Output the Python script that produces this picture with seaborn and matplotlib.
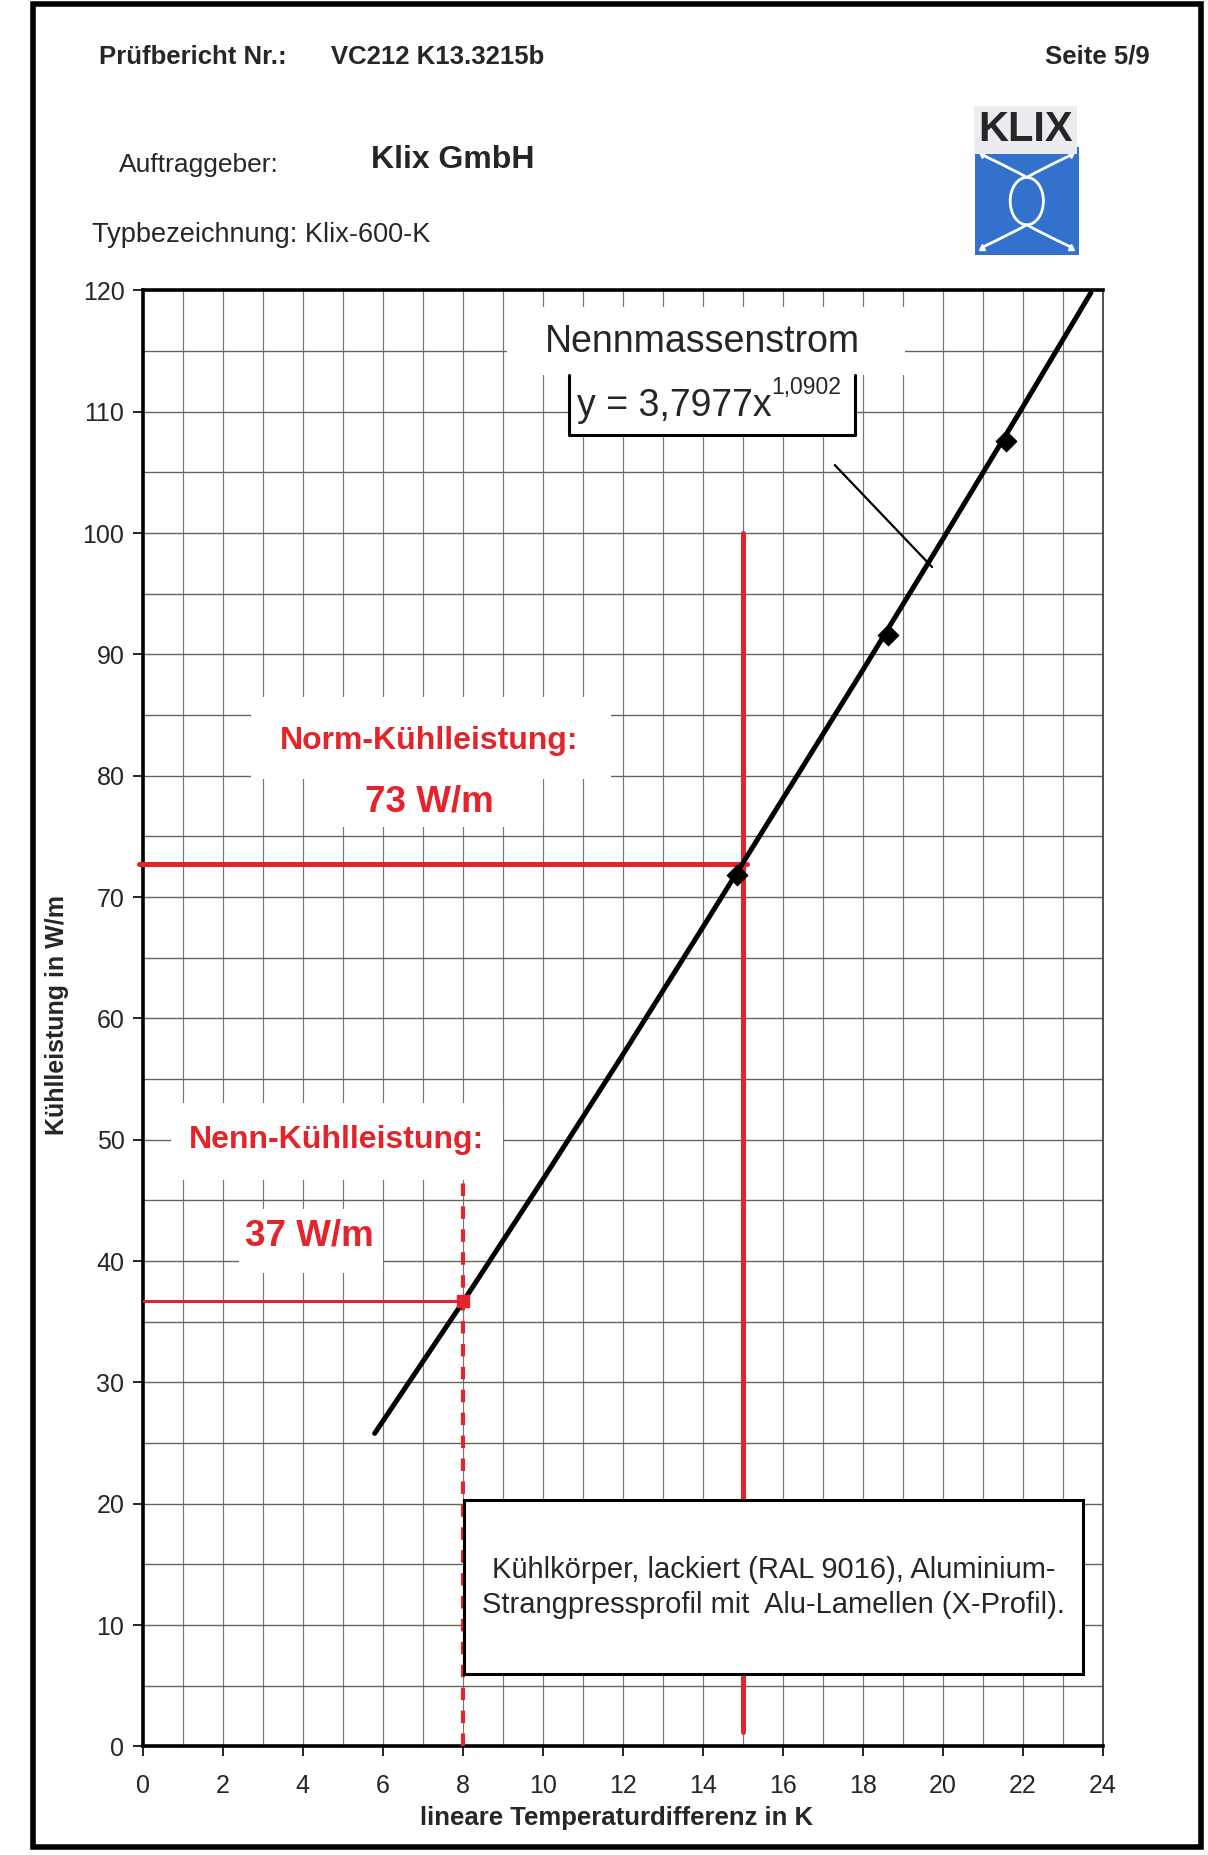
import numpy as np
import matplotlib
matplotlib.use('Agg')
import matplotlib.pyplot as plt
from matplotlib.patches import Rectangle, Ellipse, PathPatch
from matplotlib.path import Path
import seaborn as sns

# Data
curve_x = [5.8, 8.0, 10.0, 12.0, 14.0, 16.0, 18.0, 20.0, 22.0, 23.7]
curve_y = [25.8, 36.6, 46.7, 57.0, 67.5, 78.1, 88.7, 99.5, 110.4, 119.8]
meas_x = [14.85, 18.63, 21.58]
meas_y = [71.8, 91.6, 107.6]

norm_dt = 15.0      # K
norm_q = 72.7       # W/m
nenn_dt = 8.0       # K
nenn_q = 36.7       # W/m

x_ticks = list(range(0, 25, 2))
y_ticks = list(range(0, 121, 10))

RED = '#e3252b'

sns.set_theme(style='white')
plt.rcParams['font.family'] = ['Liberation Sans', 'DejaVu Sans']

fig = plt.figure(figsize=(12.08, 18.55), dpi=100)
ax = fig.add_axes([0.118, 0.0585, 0.795, 0.785])

# grid
ax.set_xlim(0, 24)
ax.set_ylim(0, 120)
ax.set_xticks(x_ticks)
ax.set_yticks(y_ticks)
ax.set_xticks(np.arange(0, 25, 1), minor=True)
ax.set_yticks(np.arange(0, 121, 5), minor=True)
ax.set_axisbelow(True)
ax.grid(axis='x', which='both', color='#75758a', lw=0.85)
ax.grid(axis='y', which='both', color='#606856', lw=1.0)
ax.tick_params(which='minor', length=0)
ax.tick_params(which='major', direction='out', length=7, width=1.2, color='black',
               labelsize=18, bottom=True, left=True)
ax.tick_params(axis='x', pad=13)
ax.tick_params(axis='y', pad=6)
for side in ['left', 'bottom', 'top']:
    ax.spines[side].set_color('black')
    ax.spines[side].set_linewidth(2.6)
ax.spines['right'].set_color('#333333')
ax.spines['right'].set_linewidth(1.2)

# white areas behind labels
for (x0, y0, x1, y1) in [(9.1, 113.0, 19.05, 118.6), (2.7, 79.7, 11.7, 86.5),
                         (4.6, 75.8, 10.0, 79.7), (0.7, 46.7, 9.0, 53.0),
                         (2.4, 39.0, 6.0, 44.3)]:
    ax.add_patch(Rectangle((x0, y0), x1 - x0, y1 - y0, fc='white', ec='none', zorder=1))

# red reference lines
ax.plot([-0.1, norm_dt + 0.1], [norm_q, norm_q], color=RED, lw=3.6, zorder=3, clip_on=False)
ax.plot([norm_dt, norm_dt], [1.2, 100], color=RED, lw=3.6, zorder=3)
ax.plot([0, nenn_dt], [nenn_q, nenn_q], color=RED, lw=2.2, zorder=3)
ax.plot([nenn_dt, nenn_dt], [0, 46.7], color=RED, lw=3.0, ls=(0, (3, 2.5)), zorder=3)

# fitted curve and measured points
sns.lineplot(x=curve_x, y=curve_y, ax=ax, color='black', lw=3.6, zorder=4)
sns.scatterplot(x=meas_x, y=meas_y, ax=ax, color='black', marker='D', s=110,
                edgecolor='black', zorder=5)
ax.plot([nenn_dt], [nenn_q], marker='s', ms=9, color=RED, zorder=5)

# equation label
ax.text(14.0, 115.7, 'Nennmassenstrom', fontsize=27, ha='center', va='center', zorder=6)
ax.add_patch(Rectangle((10.66, 108.1), 17.8 - 10.66, 113.0 - 108.1, fc='white', ec='none', zorder=5))
ax.plot([10.66, 10.66, 17.8, 17.8], [113.0, 108.1, 108.1, 113.0], color='black', lw=2.2, zorder=6)
eq = ax.text(10.85, 110.5, 'y = 3,7977x', fontsize=27, ha='left', va='center', zorder=7)
ax.annotate('1,0902', xy=(1.0, 0.68), xycoords=eq, fontsize=16.5, ha='left', va='bottom', zorder=7)
ax.plot([17.3, 19.73], [105.6, 97.2], color='black', lw=1.6, zorder=6)

# red annotations
ax.text(7.17, 82.9, 'Norm-Kühlleistung:', fontsize=23, fontweight='bold', color=RED,
        ha='center', va='center', zorder=6)
ax.text(7.17, 77.8, '73 W/m', fontsize=26.5, fontweight='bold', color=RED,
        ha='center', va='center', zorder=6)
ax.text(4.84, 50.0, 'Nenn-Kühlleistung:', fontsize=23, fontweight='bold', color=RED,
        ha='center', va='center', zorder=6)
ax.text(4.16, 42.1, '37 W/m', fontsize=26.5, fontweight='bold', color=RED,
        ha='center', va='center', zorder=6)

# description box
ax.add_patch(Rectangle((8.03, 6.0), 23.5 - 8.03, 20.3 - 6.0, fc='white', ec='black',
                       lw=2.2, zorder=6))
ax.text(15.77, 13.1, 'Kühlkörper, lackiert (RAL 9016), Aluminium-\n'
        'Strangpressprofil mit  Alu-Lamellen (X-Profil).',
        fontsize=21, ha='center', va='center', linespacing=1.35, zorder=7)

ax.set_xlabel('')
ax.set_ylabel('')
fig.text(0.047, 0.453, 'Kühlleistung in W/m', rotation=90, fontsize=18, fontweight='bold',
         ha='center', va='center')
fig.text(0.51, 0.0197, 'lineare Temperaturdifferenz in K', fontsize=18.5, fontweight='bold',
         ha='center', va='center')

# header
fig.text(0.082, 0.9695, 'Prüfbericht Nr.:', fontsize=18.5, fontweight='bold', va='center')
fig.text(0.274, 0.9695, 'VC212 K13.3215b', fontsize=18.5, fontweight='bold', va='center')
fig.text(0.952, 0.9695, 'Seite 5/9', fontsize=18.5, fontweight='bold', va='center', ha='right')
fig.text(0.0986, 0.911, 'Auftraggeber:', fontsize=19, va='center')
fig.text(0.307, 0.9135, 'Klix GmbH', fontsize=23, fontweight='bold', va='center')
fig.text(0.076, 0.8734, 'Typbezeichnung: Klix-600-K', fontsize=19.5, va='center')

# logo
fig.text(0.849, 0.930, 'KLIX', fontsize=30, fontweight='bold', ha='center', va='center',
         bbox=dict(boxstyle='square,pad=0.1', fc='#ececf0', ec='none'))
lg = fig.add_axes([0.807, 0.8626, 0.086, 0.058])
lg.set_xlim(0, 1)
lg.set_ylim(0, 1)
lg.axis('off')
lg.add_patch(Rectangle((0, 0), 1, 1, fc='#3272cc', ec='none'))
lg.add_patch(Ellipse((0.5, 0.5), 0.32, 0.44, fc='none', ec='white', lw=2))
for (sx, sy), (ex, ey) in [((0.07, 0.93), (0.5, 0.72)), ((0.93, 0.93), (0.5, 0.72)),
                           ((0.07, 0.07), (0.5, 0.28)), ((0.93, 0.07), (0.5, 0.28))]:
    cx, cy = (sx + ex) / 2 + (0.5 - sx) * 0.25, (sy + ey) / 2 + (0.5 - sy) * 0.1
    p = Path([(sx, sy), (cx, cy), (ex, ey)], [Path.MOVETO, Path.CURVE3, Path.CURVE3])
    lg.add_patch(PathPatch(p, fc='none', ec='white', lw=2))
    lg.plot([sx], [sy], marker='^' if sy < 0.5 else 'v', color='white', ms=5)

# page frame
fig.patches.append(Rectangle((0.027, 0.0045), 0.967, 0.9935, transform=fig.transFigure,
                             fill=False, ec='black', lw=4))

fig.savefig('out.png', dpi=100)
